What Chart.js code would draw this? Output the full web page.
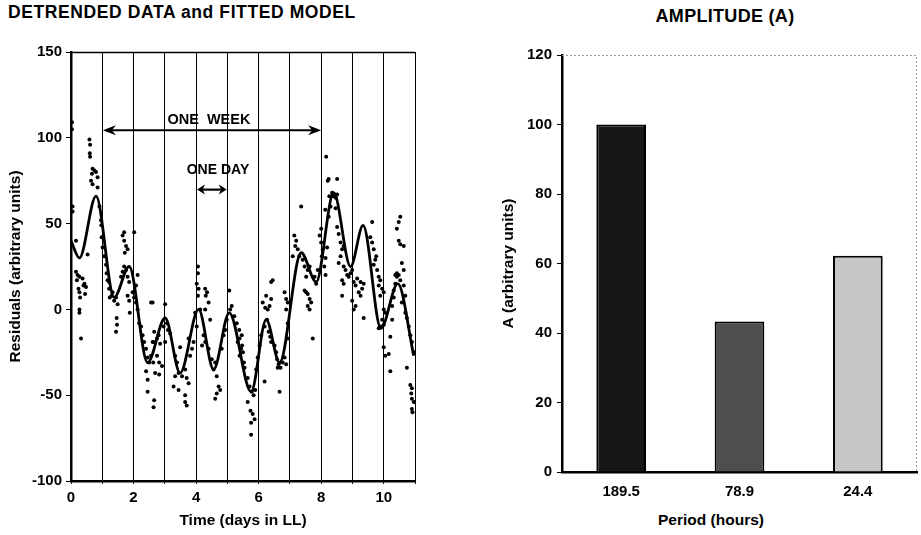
<!DOCTYPE html>
<html><head><meta charset="utf-8">
<script src="https://cdn.jsdelivr.net/npm/chart.js@4.4.0/dist/chart.umd.min.js"></script>
<style>
html,body{margin:0;padding:0;background:#fff;width:921px;height:535px;overflow:hidden;font-family:"Liberation Sans",Arial,sans-serif;}
.t{position:absolute;font-weight:bold;color:#000;white-space:nowrap;line-height:1;}
#c1{position:absolute;left:0;top:0;}
#c2{position:absolute;left:460px;top:0;}
</style></head><body>
<div class="t" style="left:8px;top:4px;font-size:17.5px;letter-spacing:0.6px;">DETRENDED DATA and FITTED MODEL</div>
<div class="t" style="left:625px;top:7px;width:200px;text-align:center;font-size:18px;letter-spacing:0.3px;">AMPLITUDE (A)</div>
<div class="t" style="left:611px;top:512px;width:200px;text-align:center;font-size:15.5px;">Period (hours)</div>
<canvas id="c1" width="460" height="535"></canvas>
<canvas id="c2" width="461" height="535"></canvas>
<script>
// ---------- DATA ----------
// Observed detrended residuals: [time (days in LL), residual]
const residualObs = [
[0.03,109],[0.03,105],[0.05,60],[0.05,57],[0.16,40],[0.16,22],[0.19,17],[0.21,20],[0.24,12],[0.27,19],
[0.27,10],[0.29,7],[0.27,0],[0.27,-2],[0.32,-17],[0.37,18],[0.40,14],[0.43,15],[0.45,9],[0.48,13],
[0.53,32],[0.59,99],[0.61,96],[0.60,91],[0.61,89],[0.64,75],[0.67,79],[0.69,82],[0.69,73],[0.75,81],
[0.80,80],[0.85,77],[0.85,71],[0.91,60],[0.96,52],[0.97,49],[0.98,42],[1.01,36],[1.06,31],[1.12,26],
[1.14,21],[1.17,17],[1.22,16],[1.22,12],[1.33,10],
[1.24,7],[1.30,8],[1.38,5],[1.44,7],[1.49,3],[1.46,-5],[1.47,-9],[1.44,-13],[1.60,19],[1.65,22],
[1.70,25],[1.76,23],[1.81,19],[1.86,16],[1.70,45],[1.65,43],[1.70,40],[1.76,37],[1.81,35],[1.72,33],
[2.02,45],[1.81,8],[1.86,5],[1.88,-2],[1.97,10],[2.02,7],[2.08,14],[2.13,20],[2.08,4],[2.13,0],
[2.18,-8],[2.24,-10],[2.29,-15],[2.34,-19],[2.40,-23],[2.45,-28],[2.50,-31],[2.56,-27],[2.61,-19],[2.63,-31],
[2.56,4],[2.40,-36],[2.45,-41],[2.45,-48],[2.66,-53],
[2.61,4],[2.66,-13],[2.75,-17],[2.64,-19],[2.80,-15],[2.85,-20],[2.75,-27],[2.82,-31],[2.91,-33],[2.69,-37],
[2.64,-57],[2.82,-38],[3.01,3],[3.07,-8],[3.10,-12],[3.17,-14],[2.96,-10],[3.01,-19],[3.33,-27],[3.39,-31],
[3.44,-37],[3.33,-39],[3.28,-45],[3.44,-47],[3.49,-22],[3.55,-39],[3.65,-35],[3.70,-40],[3.65,-50],[3.65,-54],
[3.70,-56],[3.76,-43],[3.81,-27],[3.87,-23],[3.92,-19],[3.76,-17],[4.06,25],[4.06,21],[4.02,15],[4.08,12],
[4.06,8],[4.13,0],[3.97,-2],[4.02,-10],[4.29,12],[4.35,10],[4.31,8],[4.40,4],[4.45,-6],[4.29,0],
[4.24,-15],[4.19,-21],[4.29,-19],[4.40,-23],[4.56,-35],[4.61,-31],[4.50,-29],[4.66,-39],[4.72,-45],[4.77,-47],
[4.61,-52],[4.66,-49],[4.82,-23],[4.88,-15],[4.93,-12],[4.98,-6],[5.06,11],[5.09,0],[5.14,2],[5.22,-4],
[5.30,-8],[5.38,-12],[5.46,-15],[5.33,-19],[5.44,-23],
[5.39,-17],[5.47,-21],[5.50,-25],[5.39,-27],[5.53,-31],[5.55,-34],[5.65,-40],[5.71,-45],[5.78,-48],[5.84,-50],
[5.89,-47],[5.65,-54],[5.74,-59],[5.81,-61],[5.76,-66],[5.76,-73],[5.87,-64],[5.92,-35],[5.97,-28],[6.03,-21],
[6.08,-15],[6.13,4],[6.21,1],[6.29,0],[6.35,2],[6.40,6],[6.40,16],[6.45,17],[6.24,8],[6.19,-10],
[6.27,-6],[6.32,-13],[6.37,-16],[6.40,-19],[6.19,-42],[6.51,-21],[6.56,-25],[6.59,-29],[6.64,-32],[6.70,-34],
[6.61,-34],[6.77,-31],[6.88,-32],[6.83,-28],[6.67,-48],[6.83,10],[6.88,6],[6.93,4],[6.88,0],[6.93,-8],
[6.93,-17],[7.09,31],[7.14,43],[7.20,40],[7.25,35],[7.30,31],[7.17,37],[7.36,60],[7.41,29],[7.47,25],
[7.52,19],[7.57,23],[7.63,25],[7.47,11],[7.52,10],[7.57,9],[7.63,6],[7.57,2],[7.68,4],[7.63,0],
[7.73,-17],[7.79,19],[7.84,15],[7.89,23],[7.95,43],[8.00,47],[8.00,39],[8.05,35],[8.02,31],[8.10,25],
[8.13,58],[8.16,89],[8.21,75],[8.26,66],
[8.24,76],[8.51,76],[8.35,68],[8.40,66],[8.46,65],[8.51,67],[8.30,60],[8.46,59],[8.24,54],[8.14,30],
[8.14,20],[8.19,36],[8.51,48],[8.56,44],[8.62,39],[8.67,35],[8.72,37],[8.62,31],[8.56,27],[8.72,25],
[8.78,23],[8.83,20],[8.67,17],[8.72,15],[8.67,8],[8.88,19],[8.94,21],[8.99,23],[9.04,16],[9.10,14],
[9.15,18],[9.26,16],[9.31,12],[9.36,15],[9.20,10],[9.26,8],[8.99,5],[9.04,0],[9.10,2],[9.36,-5],
[9.63,51],[9.57,42],[9.63,39],[9.68,35],[9.73,29],[9.68,26],[9.76,31],[9.79,23],[9.84,19],[9.89,17],
[9.84,14],[9.95,12],[10.00,10],[9.89,8],[10.00,0],[10.05,-2],[9.95,-6],[9.89,-10],[9.84,-11],[10.00,-9],
[10.21,-16],[10.00,-22],[10.16,-26],[10.05,-27],[10.21,-36],[10.27,2],[10.32,7],[10.27,-6],[10.32,11],[10.37,15],
[10.42,19],[10.53,17],[10.64,14],[10.69,8],[10.58,4],[10.69,-2],[10.53,54],[10.48,51],[10.42,47],[10.48,40],
[10.53,38],[10.64,37],[10.58,27],[10.64,23],[10.42,21],[10.48,20],[10.37,20],[10.74,-5],[10.80,-10],[10.85,-15],
[10.90,-19],[10.96,-25],[10.74,-34],[10.85,-44],[10.90,-46],[10.88,-49],[10.90,-52],[10.96,-54],[10.90,-58],[10.92,-60]
];
// Fitted model (read at its turning points)
const fitDays = [0, 0.27, 0.80, 1.38, 1.86, 2.45, 3.01, 3.49, 4.08, 4.56, 5.06, 5.76, 6.24, 6.67, 7.36, 7.84, 8.40, 8.94, 9.34, 9.91, 10.45, 10.96];
const fitVals = [40, 30, 66, 7, 25, -31, -5, -37, 0, -35, -2, -48, -6, -31, 33, 16, 68, 25, 49, -11, 15, -27];
// Annotation spans (days) and levels
const weekSpan = [1.02, 8.0], weekLevel = 104.4, weekLabelAt = [4.41, 110.5];
const daySpan = [4.03, 4.98], dayLevel = 69.8, dayLabelAt = [4.7, 81];
// Amplitude bar chart
const periods = ['189.5', '78.9', '24.4'];
const amplitudes = [100, 43.3, 62.2];
const barColors = ['#171717', '#4e4e4e', '#c6c6c6'];

// ---------- CHARTS ----------
Chart.defaults.font.family = '"Liberation Sans", Arial, sans-serif';
Chart.defaults.color = '#000';
const tickFont = {size: 15, weight: 'bold'};
const titleFont = {size: 15.5, weight: 'bold'};

function arrowHead(ctx, x, y, dir, len, half) {
  ctx.beginPath();
  ctx.moveTo(x, y);
  ctx.lineTo(x - dir * len, y - half);
  ctx.lineTo(x - dir * len * 0.7, y);
  ctx.lineTo(x - dir * len, y + half);
  ctx.closePath();
  ctx.fill();
}
function doubleArrow(ctx, x1, x2, y, len, half) {
  ctx.beginPath();
  ctx.moveTo(x1 + 3, y); ctx.lineTo(x2 - 3, y); ctx.stroke();
  arrowHead(ctx, x1, y, -1, len, half);
  arrowHead(ctx, x2, y, 1, len, half);
}

const leftDecor = {
  id: 'leftDecor',
  afterDatasetsDraw(chart) {
    const {ctx, chartArea: ca, scales: {x, y}} = chart;
    ctx.save();
    ctx.strokeStyle = '#000'; ctx.fillStyle = '#000';
    ctx.lineWidth = 1.3;
    ctx.beginPath(); ctx.moveTo(ca.left, ca.top + 0.5); ctx.lineTo(ca.right, ca.top + 0.5); ctx.stroke();
    ctx.lineWidth = 2.2;
    doubleArrow(ctx, x.getPixelForValue(weekSpan[0]), x.getPixelForValue(weekSpan[1]), y.getPixelForValue(weekLevel), 13, 5);
    doubleArrow(ctx, x.getPixelForValue(daySpan[0]), x.getPixelForValue(daySpan[1]), y.getPixelForValue(dayLevel), 8, 5);
    ctx.textAlign = 'center'; ctx.textBaseline = 'middle';
    ctx.font = 'bold 14.5px "Liberation Sans", Arial, sans-serif';
    ctx.fillText('ONE  WEEK', x.getPixelForValue(weekLabelAt[0]), y.getPixelForValue(weekLabelAt[1]));
    ctx.font = 'bold 14px "Liberation Sans", Arial, sans-serif';
    ctx.fillText('ONE DAY', x.getPixelForValue(dayLabelAt[0]), y.getPixelForValue(dayLabelAt[1]));
    ctx.restore();
  }
};

new Chart(document.getElementById('c1'), {
  type: 'scatter',
  data: {
    datasets: [
      {
        label: 'Residuals',
        data: residualObs.map(p => ({x: p[0], y: p[1]})),
        backgroundColor: '#000', borderColor: '#000',
        pointRadius: 2, pointBorderWidth: 0, showLine: false
      },
      {
        label: 'Fitted model',
        data: fitDays.map((d, i) => ({x: d, y: fitVals[i]})),
        showLine: true, borderColor: '#000', borderWidth: 2.8,
        pointRadius: 0, cubicInterpolationMode: 'monotone', fill: false
      }
    ]
  },
  options: {
    responsive: false, animation: false,
    layout: {padding: {top: 52, right: 45, left: 0, bottom: 0}},
    plugins: {legend: {display: false}, tooltip: {enabled: false}},
    scales: {
      x: {
        type: 'linear', min: 0, max: 11,
        afterFit: s => { s.height = 54; },
        border: {color: '#000', width: 2.5},
        grid: {color: '#000', lineWidth: 1, tickLength: 3, drawOnChartArea: true},
        ticks: {stepSize: 1, autoSkip: false, maxRotation: 0, padding: 5, font: tickFont,
          callback: v => (v % 2 === 0 && v <= 10) ? String(v) : ''},
        title: {display: true, text: 'Time (days in LL)', font: titleFont, padding: {top: 0, bottom: 5}}
      },
      y: {
        min: -100, max: 150,
        afterFit: s => { s.width = 71; },
        border: {color: '#000', width: 2.5},
        grid: {drawOnChartArea: false, color: '#000', tickLength: 5},
        ticks: {stepSize: 50, padding: 4, font: tickFont},
        title: {display: true, text: 'Residuals (arbitrary units)', font: titleFont, padding: {top: 6, bottom: 0}}
      }
    }
  },
  plugins: [leftDecor]
});

const rightDecor = {
  id: 'rightDecor',
  beforeDatasetsDraw(chart) {
    const {ctx, chartArea: ca} = chart;
    ctx.save();
    ctx.strokeStyle = '#9a9a9a'; ctx.lineWidth = 1;
    ctx.setLineDash([2, 2]);
    ctx.beginPath();
    ctx.moveTo(ca.left, ca.top + 0.5); ctx.lineTo(ca.right - 0.5, ca.top + 0.5); ctx.lineTo(ca.right - 0.5, ca.bottom);
    ctx.stroke();
    ctx.restore();
  }
};

new Chart(document.getElementById('c2'), {
  type: 'bar',
  data: {
    labels: periods,
    datasets: [{
      label: 'Amplitude',
      data: amplitudes,
      backgroundColor: barColors,
      borderColor: '#000', borderWidth: 2,
      categoryPercentage: 1, barPercentage: 0.42
    }]
  },
  options: {
    responsive: false, animation: false,
    layout: {padding: {top: 55, right: 4, left: 0, bottom: 0}},
    plugins: {legend: {display: false}, tooltip: {enabled: false}},
    scales: {
      x: {
        afterFit: s => { s.height = 63; },
        border: {color: '#000', width: 2.5},
        grid: {drawOnChartArea: false, drawTicks: false},
        ticks: {padding: 11, font: tickFont}
      },
      y: {
        min: 0, max: 120,
        afterFit: s => { s.width = 102; },
        border: {color: '#000', width: 2.5},
        grid: {drawOnChartArea: false, color: '#000', tickLength: 5},
        ticks: {stepSize: 20, padding: 5, font: tickFont},
        title: {display: true, text: 'A (arbitrary units)', font: titleFont, padding: {top: 39, bottom: 0}}
      }
    }
  },
  plugins: [rightDecor]
});
</script>
</body></html>
